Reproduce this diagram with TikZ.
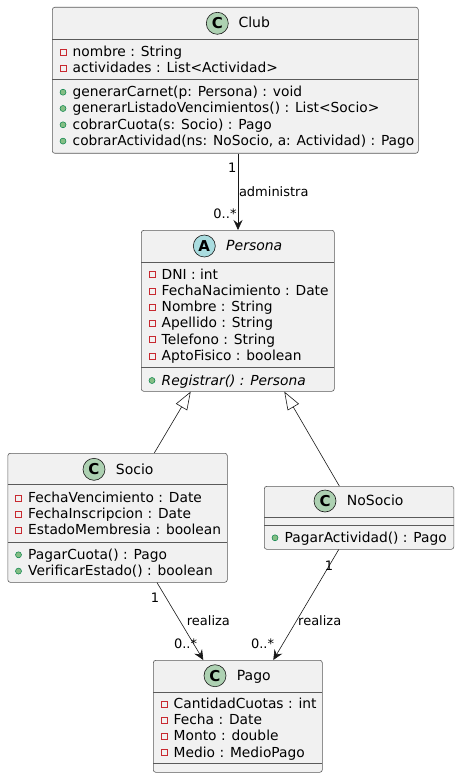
\documentclass[tikz,border=0pt]{standalone}
\usepackage{fontspec}
\setmainfont{DejaVu Sans}
\usetikzlibrary{arrows.meta,calc}
\definecolor{uborder}{HTML}{5A5A5A}
\definecolor{uconn}{HTML}{181818}
\definecolor{ufill}{HTML}{F1F1F1}
\definecolor{cicon}{HTML}{ADD1B2}
\definecolor{aicon}{HTML}{A9DCDF}
\definecolor{privred}{HTML}{C82930}
\definecolor{pubfill}{HTML}{84BE84}
\definecolor{pubdraw}{HTML}{038048}
\tikzset{
  classbox/.style={draw=uborder, fill=ufill, line width=0.6pt, rounded corners=2.5pt, inner sep=0pt, anchor=north west},
  sepline/.style={draw=uborder, line width=0.6pt},
  rowtext/.style={anchor=base west, inner sep=0pt, font=\fontsize{13.8}{16}\selectfont},
  titletext/.style={anchor=base west, inner sep=0pt, font=\fontsize{14}{16}\selectfont},
  iconcirc/.style={circle, draw=uconn, line width=0.6pt, minimum size=22pt, inner sep=0pt, font=\fontsize{15}{16}\selectfont\bfseries},
  privicon/.style={draw=privred, line width=0.6pt},
  pubicon/.style={draw=pubdraw, fill=pubfill, line width=0.5pt},
  conn/.style={draw=uconn, line width=0.6pt},
  assoc/.style={conn, -{Stealth[length=10pt,width=9pt,inset=3.5pt]}},
  inherit/.style={conn, -{Triangle[length=18pt,width=13pt,fill=white]}},
  lbl/.style={inner sep=0pt, font=\fontsize{13}{15}\selectfont},
}
\newcommand\privattr[4]{%
  \draw[privicon] (#2+11-3,#3-4.5-3) rectangle ++(6,6);
  \node[rowtext] (#1) at (#2+20.5,#3) {#4};}
\newcommand\pubmeth[4]{%
  \fill[pubicon] (#2+11,#3-4.5) circle (3);
  \node[rowtext] (#1) at (#2+20.5,#3) {#4};}
\begin{document}
\begin{tikzpicture}[x=1pt,y=-1pt]
\useasboundingbox[fill=white] (0,0) rectangle (459,778);

% ---------------- Club
\node[classbox, minimum width=366pt, minimum height=146pt] (club) at (52,7) {};
\draw[sepline] (52,39) -- (418,39);
\draw[sepline] (52,79) -- (418,79);
\node[iconcirc, fill=cicon] (clubicon) at (217.3,23.3) {C};
\node[titletext] (clubtitle) at (238.3,27.7) {Club};
\privattr{club-a1}{52}{56.7}{nombre : String}
\privattr{club-a2}{52}{73}{actividades : List<Actividad>}
\pubmeth{club-m1}{52}{96.7}{generarCarnet(p: Persona) : void}
\pubmeth{club-m2}{52}{113}{generarListadoVencimientos() : List<Socio>}
\pubmeth{club-m3}{52}{129.3}{cobrarCuota(s: Socio) : Pago}
\pubmeth{club-m4}{52}{145.6}{cobrarActividad(ns: NoSocio, a: Actividad) : Pago}

% ---------------- Persona
\node[classbox, minimum width=193pt, minimum height=161pt] (persona) at (141,230) {};
\draw[sepline] (141,262) -- (334,262);
\draw[sepline] (141,367) -- (334,367);
\node[iconcirc, fill=aicon] (personaicon) at (204.3,246) {A};
\node[titletext] (personatitle) at (226,250.7) {\itshape Persona};
\privattr{persona-a1}{141}{279}{DNI : int}
\privattr{persona-a2}{141}{295.3}{FechaNacimiento : Date}
\privattr{persona-a3}{141}{311.6}{Nombre : String}
\privattr{persona-a4}{141}{327.9}{Apellido : String}
\privattr{persona-a5}{141}{344.2}{Telefono : String}
\privattr{persona-a6}{141}{360.5}{AptoFisico : boolean}
\pubmeth{persona-m1}{141}{385}{\itshape Registrar() : Persona}

% ---------------- Socio
\node[classbox, minimum width=219.5pt, minimum height=129pt] (socio) at (7.5,453) {};
\draw[sepline] (7.5,484) -- (227,484);
\draw[sepline] (7.5,542) -- (227,542);
\node[iconcirc, fill=cicon] (socioicon) at (94,469.3) {C};
\node[titletext] (sociotitle) at (115.7,474.3) {Socio};
\privattr{socio-a1}{7.5}{502.3}{FechaVencimiento : Date}
\privattr{socio-a2}{7.5}{518.6}{FechaInscripcion : Date}
\privattr{socio-a3}{7.5}{534.9}{EstadoMembresia : boolean}
\pubmeth{socio-m1}{7.5}{559.3}{PagarCuota() : Pago}
\pubmeth{socio-m2}{7.5}{575.6}{VerificarEstado() : boolean}

% ---------------- NoSocio
\node[classbox, minimum width=189.5pt, minimum height=63pt] (nosocio) at (264,486) {};
\draw[sepline] (264,517) -- (453.5,517);
\draw[sepline] (264,525) -- (453.5,525);
\node[iconcirc, fill=cicon] (nosocioicon) at (325,501) {C};
\node[titletext] (nosociotitle) at (346.7,505.7) {NoSocio};
\pubmeth{nosocio-m1}{264}{542.3}{PagarActividad() : Pago}

% ---------------- Pago
\node[classbox, minimum width=169pt, minimum height=112pt] (pago) at (153,660) {};
\draw[sepline] (153,692) -- (322,692);
\draw[sepline] (153,763) -- (322,763);
\node[iconcirc, fill=cicon] (pagoicon) at (215,675.7) {C};
\node[titletext] (pagotitle) at (236.7,680) {Pago};
\privattr{pago-a1}{153}{708.3}{CantidadCuotas : int}
\privattr{pago-a2}{153}{724.6}{Fecha : Date}
\privattr{pago-a3}{153}{740.9}{Monto : double}
\privattr{pago-a4}{153}{757.2}{Medio : MedioPago}

% ---------------- connectors
\draw[assoc] ($(club.south west)+(186,0)$) -- ($(persona.north west)+(97,0)$);
\draw[inherit] ($(socio.north west)+(146.8,0)$) -- ($(persona.south west)+(49.7,0)$);
\draw[inherit] ($(nosocio.north west)+(75.3,0)$) -- ($(persona.south west)+(143.3,0)$);
\draw[assoc] ($(socio.south west)+(149.5,0)$) -- ($(pago.north west)+(50.3,0)$);
\draw[assoc] ($(nosocio.south west)+(74.7,0)$) -- ($(pago.north west)+(120.3,0)$);

% ---------------- labels
\node[lbl, anchor=base east] (l1) at (236.5,172.7) {1};
\node[lbl, anchor=base west] (l2) at (238.8,196) {administra};
\node[lbl, anchor=base east] (l3) at (236.7,218.7) {0..*};
\node[lbl, anchor=base east] (l4) at (159.3,602.7) {1};
\node[lbl, anchor=base west] (l5) at (186.7,625) {realiza};
\node[lbl, anchor=base east] (l6) at (197.3,648.3) {0..*};
\node[lbl, anchor=base east] (l7) at (333.3,570) {1};
\node[lbl, anchor=base west] (l8) at (298,625) {realiza};
\node[lbl, anchor=base east] (l9) at (274.3,648.3) {0..*};
\end{tikzpicture}
\end{document}
